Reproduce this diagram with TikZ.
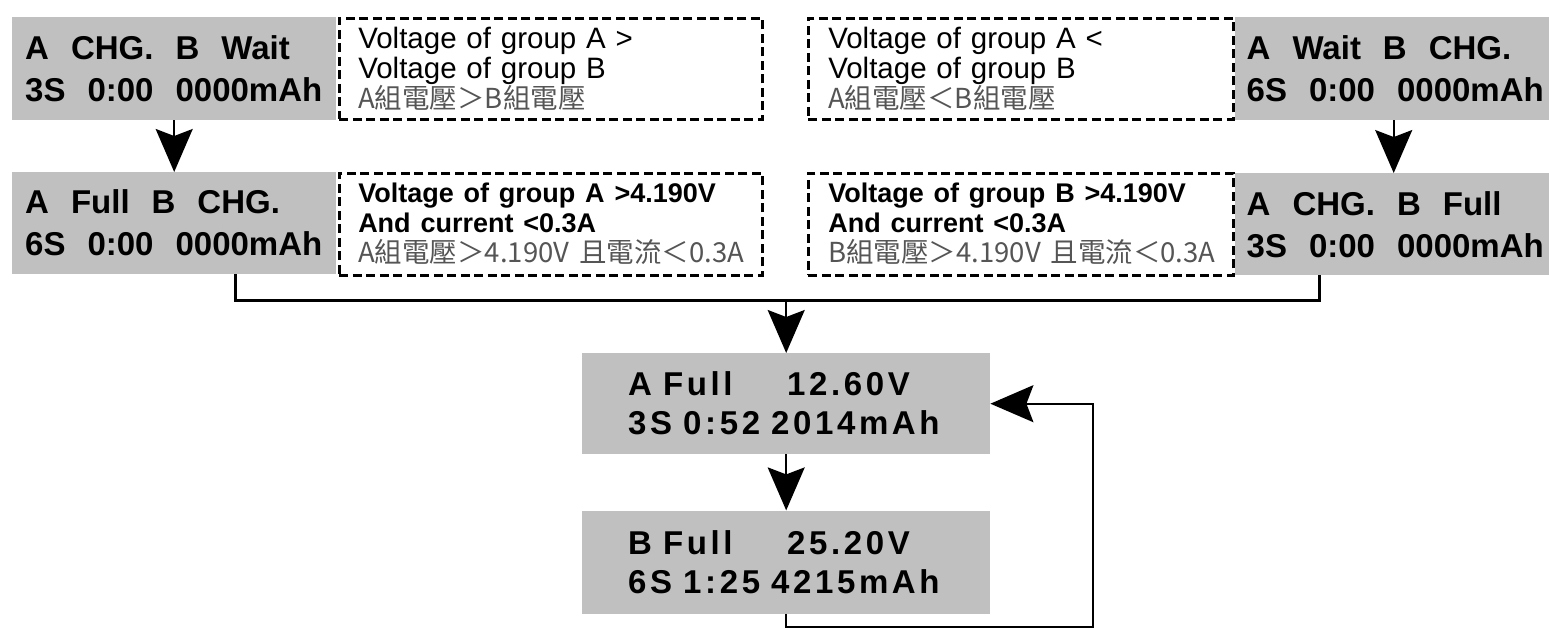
\documentclass[tikz,border=0pt]{standalone}
\usepackage{fontspec}
\setmainfont{Liberation Sans}
\newfontfamily\cjk{Noto Sans CJK TC}
\usetikzlibrary{positioning,arrows.meta}
\definecolor{lcdgray}{HTML}{C0C0C0}
\definecolor{cjkgray}{HTML}{555555}
\newcommand{\cjkline}[1]{\mbox{\mdseries\cjk\color{cjkgray}\fontsize{27.5}{30}\selectfont #1}}
\newcommand{\boldline}[1]{\textbf{\fontsize{27}{29}\selectfont #1}}

\tikzset{
  lcd/.style={rectangle, fill=lcdgray, inner ysep=0pt, align=left,
    font=\fontsize{33}{42}\selectfont\bfseries},
  cond/.style={rectangle, draw, line width=2.5pt, dash pattern=on 9pt off 4.5pt,
    inner ysep=0pt, align=left, minimum width=423pt, text width=385pt,
    font=\fontsize{29.5}{30}\selectfont},
  tip/.style={-{Stealth[length=43pt,width=37pt,inset=7pt]}, line width=2pt}
}

\begin{document}
\begin{tikzpicture}[x=1pt,y=-1pt]
   \useasboundingbox (0,0) rectangle (1549,629);

   % left column
   \node[lcd, anchor=north west, inner xsep=13pt, text width=298pt, minimum height=103pt] (achg) at (12,17)
   {A~~CHG.~~B~~Wait\\3S~~0:00~~0000mAh};
   \node[cond, anchor=north west, inner xsep=18pt, minimum height=101pt] (agtb) at (338,17)
   {Voltage of group A >\\Voltage of group B\\\cjkline{A組電壓＞B組電壓}};
   \node[lcd, anchor=north west, inner xsep=13pt, text width=298pt, minimum height=102pt] (afull) at (12,172)
   {A~~Full~~B~~CHG.\\6S~~0:00~~0000mAh};
   \node[cond, anchor=north west, inner xsep=18pt, minimum height=102pt] (afullc) at (338,172)
   {\boldline{Voltage of group A >4.190V}\\\boldline{And current <0.3A}\\\cjkline{A組電壓＞4.190V 且電流＜0.3A}};

   % right column
   \node[cond, anchor=north west, inner xsep=20pt, minimum width=424pt, minimum height=101pt] (altb) at (807,17)
   {Voltage of group A <\\Voltage of group B\\\cjkline{A組電壓＜B組電壓}};
   \node[lcd, inner xsep=12pt, text width=294pt, minimum height=103pt] (bchg) [right=0pt of altb]
   {A~~Wait~~B~~CHG.\\6S~~0:00~~0000mAh};
   \node[cond, anchor=north west, inner xsep=20pt, minimum width=424pt, minimum height=102pt] (bfullc) at (807,172)
   {\boldline{Voltage of group B >4.190V}\\\boldline{And current <0.3A}\\\cjkline{B組電壓＞4.190V 且電流＜0.3A}};
   \node[lcd, inner xsep=12pt, text width=294pt, minimum height=102pt] (bfull) [right=0pt of bfullc]
   {A~~CHG.~~B~~Full\\3S~~0:00~~0000mAh};

   % result screens
   \node[lcd, anchor=north west, inner xsep=46pt, text width=316pt, minimum height=101pt,
     font=\fontsize{33}{39}\selectfont\bfseries\addfontfeatures{LetterSpace=11}] (ares) at (582,353)
   {\makebox[159pt][l]{A Full}12.60V\\3S 0:52 2014mAh};
   \node[lcd, inner xsep=46pt, text width=316pt, minimum height=103pt,
     font=\fontsize{33}{39}\selectfont\bfseries\addfontfeatures{LetterSpace=11}] (bres) [below=56pt of ares]
   {\makebox[159pt][l]{B Full}25.20V\\6S 1:25 4215mAh};

   \coordinate (join) at (ares.north |- 0,300);
   \coordinate (loop) at (1093,627);

   \draw[tip] (achg) -- (afull);
   \draw[tip] (bchg) -- (bfull);
   \draw[line width=3pt] ([xshift=61pt]afull.south) |- (join) -| ([xshift=-74pt]bfull.south);
   \draw[tip] (join) -- (ares);
   \draw[tip] (ares) -- (bres);
   \draw[tip] (bres.south) |- (loop) |- (ares.east);
\end{tikzpicture}
\end{document}
